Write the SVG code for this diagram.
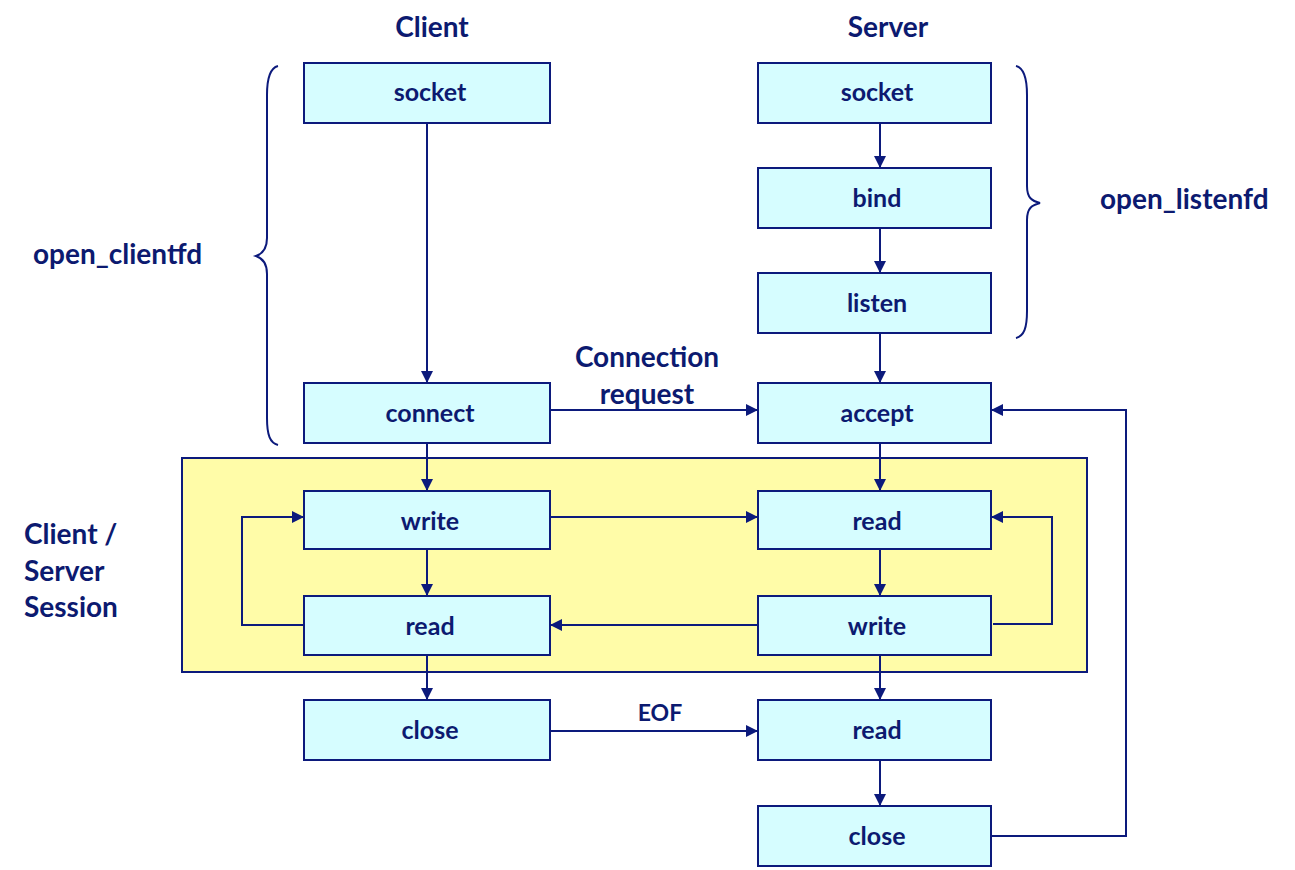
<svg xmlns="http://www.w3.org/2000/svg" width="1295" height="870" viewBox="0 0 1295 870">
<style>
.box{fill:#d6fdff;stroke:#0c1a7c;stroke-width:2}
.t{font-family:Lato,"Liberation Sans",sans-serif;font-weight:bold;fill:#0c1a70}
.bt{font-size:25px;text-anchor:middle}
.lbl{font-size:28px}
.ln{fill:none;stroke:#0c1a7c;stroke-width:2}
</style>
<defs>
<marker id="ah" viewBox="0 0 10 10" refX="10" refY="5" markerWidth="12" markerHeight="12" markerUnits="userSpaceOnUse" orient="auto">
<path d="M0,0 L10,5 L0,10 z" fill="#0c1a7c"/>
</marker>
</defs>
<rect width="1295" height="870" fill="#ffffff"/>
<g id="session-area">
<rect x="182" y="458" width="905" height="214" fill="#fffca8" stroke="#0c1a7c" stroke-width="2"/>
</g>
<g id="headers">
<text class="t lbl" x="432" y="37" text-anchor="middle">Client</text>
<text class="t lbl" x="888" y="37" text-anchor="middle">Server</text>
<text class="t lbl" x="33" y="264">open_clientfd</text>
<text class="t lbl" x="1100" y="209">open_listenfd</text>
<text class="t lbl" x="24" y="544">Client /</text>
<text class="t lbl" x="24" y="581">Server</text>
<text class="t lbl" x="24" y="617">Session</text>
</g>
<g id="braces" class="ln">
<path d="M278,66 C270,68 267,78 267,95 L267,238 C267,250 262,254 256,256 C262,258 267,262 267,274 L267,418 C267,435 270,443 278,445"/>
<path d="M1016,66 C1024,68 1027,78 1027,95 L1027,186 C1027,198 1032,201 1040,203 C1032,205 1027,208 1027,220 L1027,311 C1027,328 1024,336 1016,338"/>
</g>
<g id="connectors" class="ln">
<line x1="427" y1="123" x2="427" y2="383" marker-end="url(#ah)"/>
<line x1="427" y1="443" x2="427" y2="491" marker-end="url(#ah)"/>
<line x1="427" y1="549" x2="427" y2="596" marker-end="url(#ah)"/>
<line x1="427" y1="651" x2="427" y2="700" marker-end="url(#ah)"/>
<line x1="880" y1="123" x2="880" y2="168" marker-end="url(#ah)"/>
<line x1="880" y1="228" x2="880" y2="273" marker-end="url(#ah)"/>
<line x1="880" y1="333" x2="880" y2="383" marker-end="url(#ah)"/>
<line x1="880" y1="443" x2="880" y2="491" marker-end="url(#ah)"/>
<line x1="880" y1="549" x2="880" y2="596" marker-end="url(#ah)"/>
<line x1="880" y1="651" x2="880" y2="700" marker-end="url(#ah)"/>
<line x1="880" y1="760" x2="880" y2="806" marker-end="url(#ah)"/>
<line x1="550" y1="410" x2="758" y2="410" marker-end="url(#ah)"/>
<line x1="550" y1="517" x2="758" y2="517" marker-end="url(#ah)"/>
<line x1="758" y1="625" x2="550" y2="625" marker-end="url(#ah)"/>
<line x1="550" y1="731" x2="758" y2="731" marker-end="url(#ah)"/>
<polyline points="304,625 242,625 242,517 304,517" marker-end="url(#ah)"/>
<polyline points="993,624 1052,624 1052,517 991,517" marker-end="url(#ah)"/>
<polyline points="991,836 1126,836 1126,410 991,410" marker-end="url(#ah)"/>
</g>
<g id="conn-labels">
<text class="t lbl" x="647" y="367" text-anchor="middle">Connection</text>
<text class="t lbl" x="647" y="404" text-anchor="middle">request</text>
<text class="t" x="660" y="721" text-anchor="middle" font-size="23">EOF</text>
</g>
<g id="c-socket"><rect class="box" x="304" y="63" width="246" height="60"/><text class="t bt" x="430" y="101">socket</text></g>
<g id="c-connect"><rect class="box" x="304" y="383" width="246" height="60"/><text class="t bt" x="430" y="422">connect</text></g>
<g id="c-write"><rect class="box" x="304" y="491" width="246" height="58"/><text class="t bt" x="430" y="530">write</text></g>
<g id="c-read"><rect class="box" x="304" y="596" width="246" height="59"/><text class="t bt" x="430" y="635">read</text></g>
<g id="c-close"><rect class="box" x="304" y="700" width="246" height="60"/><text class="t bt" x="430" y="739">close</text></g>
<g id="s-socket"><rect class="box" x="758" y="63" width="233" height="60"/><text class="t bt" x="877" y="101">socket</text></g>
<g id="s-bind"><rect class="box" x="758" y="168" width="233" height="60"/><text class="t bt" x="877" y="207">bind</text></g>
<g id="s-listen"><rect class="box" x="758" y="273" width="233" height="60"/><text class="t bt" x="877" y="312">listen</text></g>
<g id="s-accept"><rect class="box" x="758" y="383" width="233" height="60"/><text class="t bt" x="877" y="422">accept</text></g>
<g id="s-read"><rect class="box" x="758" y="491" width="233" height="58"/><text class="t bt" x="877" y="530">read</text></g>
<g id="s-write"><rect class="box" x="758" y="596" width="233" height="59"/><text class="t bt" x="877" y="635">write</text></g>
<g id="s-read2"><rect class="box" x="758" y="700" width="233" height="60"/><text class="t bt" x="877" y="739">read</text></g>
<g id="s-close"><rect class="box" x="758" y="806" width="233" height="60"/><text class="t bt" x="877" y="845">close</text></g>
</svg>
